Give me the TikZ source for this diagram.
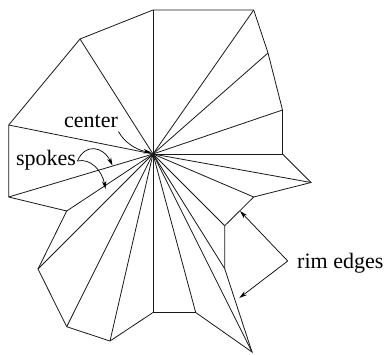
\documentclass[tikz,border=0pt]{standalone}
\usepackage{fontspec}
\setmainfont{Liberation Serif}
\usetikzlibrary{arrows.meta}
\tikzset{
  edge/.style={line width=0.8pt,line join=miter,black!90},
  callout/.style={line width=0.7pt,-{Stealth[length=8pt,width=4.5pt]}},
  lab/.style={inner sep=0pt,font=\fontsize{22}{24}\selectfont}
}
\begin{document}
\begin{tikzpicture}[x=1pt,y=-1pt]
\useasboundingbox (0,0) rectangle (387,354);
\coordinate (c) at (153,154);
\coordinate (v1) at (153,10);
\coordinate (v2) at (253.7,10);
\coordinate (v3) at (268,53);
\coordinate (v4) at (282.5,110);
\coordinate (v5) at (282.5,154);
\coordinate (v6) at (311,182.5);
\coordinate (v7) at (253.7,197);
\coordinate (v8) at (224.7,225.7);
\coordinate (v9) at (224.7,268.7);
\coordinate (v10) at (252,352);
\coordinate (v11) at (195.7,312.5);
\coordinate (v12) at (153,312.5);
\coordinate (v13) at (110,341);
\coordinate (v14) at (66.7,326.7);
\coordinate (v15) at (38,269);
\coordinate (v16) at (66.7,211);
\coordinate (v17) at (8.7,197);
\coordinate (v18) at (8.7,125);
\coordinate (v19) at (80,39);
\draw[edge] (v1) -- (v2) -- (v3) -- (v4) -- (v5) -- (v6) -- (v7) -- (v8) -- (v9) -- (v10) -- (v11) -- (v12) -- (v13) -- (v14) -- (v15) -- (v16) -- (v17) -- (v18) -- (v19) -- cycle;
\foreach \i in {1,...,19} \draw[edge] (c) -- (v\i);
\node[lab,anchor=base] (lc) at (91,127.7) {center};
\node[lab,anchor=base] (ls) at (46,165.7) {spokes};
\node[lab,anchor=base west] (lr) at (297,268.7) {rim edges};
\coordinate (ac) at (118.5,131.5);
\coordinate (as) at (77.5,161);
\coordinate (ar) at (287.7,261);
\coordinate (t1) at (151.5,152.5);
\coordinate (t2) at (112.5,165.5);
\coordinate (t3) at (105.5,189);
\coordinate (t4) at (240,211);
\coordinate (t5) at (239.3,298);
\draw[callout] (ac) .. controls (124,142) and (136,150) .. (t1);
\draw[callout] (as) .. controls (85,143) and (103,146) .. (t2);
\draw[callout] (as) .. controls (90,158) and (102,170) .. (t3);
\draw[line width=0.7pt,{Stealth[length=8pt,width=4.5pt]}-{Stealth[length=8pt,width=4.5pt]}] (t4) -- (ar) -- (t5);
\end{tikzpicture}
\end{document}
